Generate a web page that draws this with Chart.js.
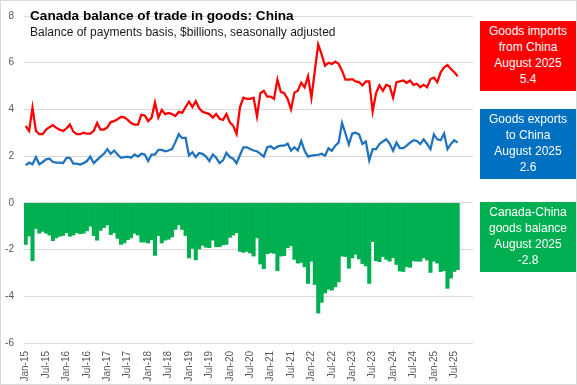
<!DOCTYPE html>
<html>
<head>
<meta charset="utf-8">
<script src="https://cdn.jsdelivr.net/npm/chart.js@4.4.1/dist/chart.umd.min.js"></script>
<style>
  body { margin: 0; background: #fff; }
  #wrap { position: relative; width: 577px; height: 385px; font-family: "Liberation Sans", Arial, sans-serif; }
  #frame { position: absolute; left: 0; top: 0; width: 577px; height: 385px; box-sizing: border-box; border: 1px solid #d9d9d9; pointer-events: none; }
  #title { position: absolute; left: 30px; top: 8px; font-size: 13.6px; line-height: 16px; font-weight: bold; color: #000; white-space: nowrap; }
  #subtitle { position: absolute; left: 30px; top: 25px; font-size: 12px; line-height: 14px; color: #1a1a1a; white-space: nowrap; }
  .box { position: absolute; left: 480px; width: 96px; height: 70px; color: #fff; font-size: 12px; line-height: 15.8px;
         display: flex; align-items: center; justify-content: center; text-align: center; }
</style>
</head>
<body>
<div id="wrap">
  <canvas id="tradeChart" width="577" height="385"></canvas>
  <div id="title">Canada balance of trade in goods: China</div>
  <div id="subtitle">Balance of payments basis, $billions, seasonally adjusted</div>
  <div class="box" style="top:21px;background:#ff0000;">Goods imports<br>from China<br>August 2025<br>5.4</div>
  <div class="box" style="top:109px;background:#0070c0;">Goods exports<br>to China<br>August 2025<br>2.6</div>
  <div class="box" style="top:202px;background:#00b050;">Canada-China<br>goods balance<br>August 2025<br>-2.8</div>
  <div id="frame"></div>
</div>
<script>
// categories: Jan-15 .. Dec-25 (data runs to Aug-25)
const monthNames = ['Jan', 'Feb', 'Mar', 'Apr', 'May', 'Jun', 'Jul', 'Aug', 'Sep', 'Oct', 'Nov', 'Dec'];
const years = ['15', '16', '17', '18', '19', '20', '21', '22', '23', '24', '25'];

// goods imports from China, $billions
const imports = [
  3.29, 3.08, 4.08, 3.08, 2.94, 2.94, 3.14, 3.24, 3.33, 3.21, 3.13, 3.08,
  3.19, 3.35, 3.05, 2.94, 2.94, 3.00, 2.96, 2.96, 3.08, 3.42, 3.14, 3.14,
  3.23, 3.46, 3.50, 3.58, 3.68, 3.66, 3.55, 3.42, 3.35, 3.35, 3.77, 3.74,
  3.50, 3.64, 4.30, 3.65, 3.98, 3.80, 3.85, 3.80, 3.72, 3.90, 3.85, 4.10,
  4.33, 4.10, 4.35, 4.05, 3.90, 3.85, 3.80, 3.65, 3.80, 3.60, 3.55, 3.80,
  3.45, 3.30, 2.95, 4.10, 4.50, 4.45, 4.45, 4.50, 3.70, 4.70, 4.80, 4.55,
  4.55, 4.45, 5.28, 4.75, 4.70, 4.45, 4.00, 4.72, 4.80, 5.14, 4.95, 5.42,
  4.50, 5.66, 6.78, 6.36, 5.87, 6.00, 5.95, 6.05, 5.95, 5.66, 5.28, 5.28,
  5.30, 5.20, 5.17, 5.03, 5.20, 5.20, 3.91, 4.70, 5.03, 4.80, 5.05, 5.00,
  4.50, 5.17, 5.20, 5.24, 5.14, 5.24, 5.05, 5.10, 4.95, 5.05, 4.95, 5.30,
  5.36, 5.17, 5.59, 5.80, 5.90, 5.73, 5.59, 5.42
];

// goods exports to China, $billions
const exportsCn = [
  1.61, 1.72, 1.65, 1.96, 1.65, 1.75, 1.86, 1.89, 1.75, 1.72, 1.72, 1.70,
  1.93, 1.93, 1.68, 1.68, 1.64, 1.70, 1.79, 1.98, 1.70, 1.84, 1.98, 2.10,
  2.30, 2.10, 2.24, 2.07, 1.93, 1.96, 1.98, 1.93, 2.07, 1.98, 2.10, 2.07,
  1.79, 2.07, 2.07, 2.27, 2.27, 2.21, 2.24, 2.30, 2.60, 2.94, 2.77, 2.79,
  2.03, 2.17, 1.96, 2.13, 2.10, 1.98, 1.79, 2.07, 1.93, 1.70, 1.82, 2.14,
  1.96, 1.89, 1.70, 2.05, 2.38, 2.38, 2.31, 2.24, 2.21, 2.10, 1.98, 2.38,
  2.42, 2.31, 2.41, 2.45, 2.45, 2.54, 2.24, 2.38, 2.24, 2.65, 2.23, 1.98,
  2.02, 2.04, 2.06, 2.10, 2.02, 2.34, 2.23, 2.45, 2.58, 3.42, 2.97, 2.50,
  2.97, 3.00, 2.93, 2.52, 2.63, 1.82, 2.30, 2.30, 2.52, 2.63, 2.72, 2.54,
  2.23, 2.58, 2.34, 2.34, 2.45, 2.58, 2.68, 2.65, 2.52, 2.72, 2.52, 2.30,
  2.93, 2.72, 2.68, 2.97, 2.30, 2.52, 2.68, 2.58
];

// Canada-China goods balance, $billions
const balance = [
  -1.78, -1.42, -2.48, -1.10, -1.30, -1.22, -1.30, -1.38, -1.62, -1.50, -1.43, -1.40,
  -1.28, -1.43, -1.38, -1.28, -1.32, -1.30, -1.20, -1.00, -1.40, -1.60, -1.18, -1.06,
  -0.95, -1.36, -1.28, -1.52, -1.78, -1.72, -1.58, -1.50, -1.30, -1.38, -1.68, -1.68,
  -1.72, -1.58, -2.25, -1.40, -1.72, -1.60, -1.56, -1.46, -1.14, -0.94, -1.14, -1.40,
  -2.36, -1.95, -2.44, -1.98, -1.82, -1.90, -1.92, -1.60, -1.88, -1.88, -1.80, -1.78,
  -1.48, -1.38, -1.28, -2.08, -2.12, -2.08, -2.15, -2.28, -1.50, -2.62, -2.82, -2.18,
  -2.14, -2.16, -2.90, -2.28, -2.26, -1.92, -1.84, -2.42, -2.58, -2.55, -2.74, -3.45,
  -2.50, -3.50, -4.72, -4.26, -3.86, -3.70, -3.74, -3.60, -3.38, -2.28, -2.30, -2.80,
  -2.36, -2.20, -2.40, -2.60, -2.70, -3.45, -1.66, -2.48, -2.52, -2.30, -2.42, -2.50,
  -2.35, -2.64, -2.92, -2.94, -2.74, -2.76, -2.48, -2.50, -2.50, -2.36, -2.45, -2.98,
  -2.50, -2.58, -2.94, -2.90, -3.66, -3.22, -2.94, -2.86
];

// y axis range
const yMin = -6;
const yMax = 8;
const yStep = 2;

// build "Jan-15" style labels
const labels = [];
years.forEach(y => monthNames.forEach(m => labels.push(m + '-' + y)));

const tickFont = { family: '"Liberation Sans", Arial, sans-serif', size: 10 };

const ctx = document.getElementById('tradeChart').getContext('2d');
new Chart(ctx, {
  type: 'bar',
  data: {
    labels: labels,
    datasets: [
      {
        type: 'line',
        label: 'Goods imports from China',
        data: imports,
        borderColor: '#ff0000',
        borderWidth: 2.25,
        pointRadius: 0,
        tension: 0,
        order: 1
      },
      {
        type: 'line',
        label: 'Goods exports to China',
        data: exportsCn,
        borderColor: '#1f72bd',
        borderWidth: 2.25,
        pointRadius: 0,
        tension: 0,
        order: 2
      },
      {
        label: 'Canada-China goods balance',
        data: balance,
        backgroundColor: '#00b050',
        borderWidth: 0,
        barPercentage: 1,
        categoryPercentage: 1,
        order: 3
      }
    ]
  },
  options: {
    responsive: false,
    animation: false,
    layout: { padding: { top: 10, right: 104, left: 0, bottom: 0 } },
    plugins: {
      legend: { display: false },
      tooltip: { enabled: false }
    },
    scales: {
      x: {
        grid: { display: false },
        border: { display: false },
        afterFit: (scale) => { scale.height = 42; },
        ticks: {
          autoSkip: false,
          minRotation: 90,
          maxRotation: 90,
          padding: 0,
          color: '#595959',
          font: tickFont,
          callback: (v, i) => (i % 6 === 0 ? labels[i] : null)
        }
      },
      y: {
        min: yMin,
        max: yMax,
        afterFit: (scale) => { scale.width = 24; },
        grid: { color: '#d9d9d9', lineWidth: 1, drawTicks: false },
        border: { display: false },
        ticks: {
          stepSize: yStep,
          padding: 10,
          color: '#595959',
          font: tickFont
        }
      }
    }
  }
});
</script>
</body>
</html>
